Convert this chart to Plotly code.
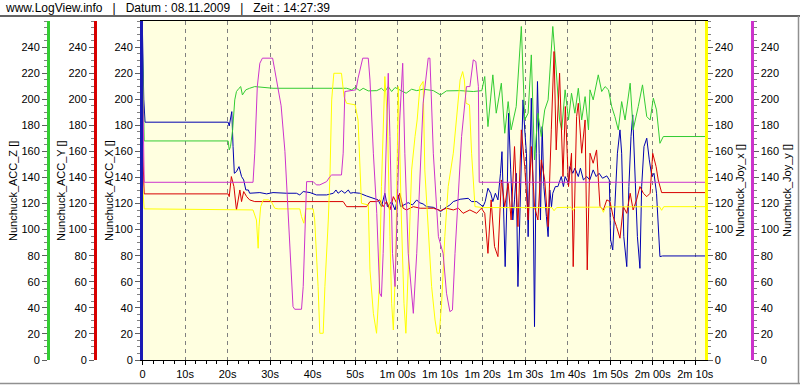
import plotly.graph_objects as go

# ---------------- data (time in seconds, values in raw units) ----------------
acc_x_t = [0, 0.3, 0.6, 20.15, 20.4, 20.7, 21.0, 21.3, 21.6, 22.1, 22.7, 23.3, 23.8, 24.3, 24.9, 25.2, 26.4,
           27.6, 29.2, 30.7, 33.9, 36.2, 37.0, 37.8, 39.4, 40.9, 43.3, 44.9, 45.5, 46.0, 46.8, 47.6, 48.4,
           48.9, 49.6, 51.1, 52.7, 54.3, 55.4, 56.2, 57.0, 57.6, 58.6, 59.4, 60.2, 60.7, 61.5, 62.5, 63.5,
           64.5, 65.1, 66.0, 66.8, 68.4, 69.6, 70.1, 71.1, 72.3, 73.1, 74.7, 76.6, 77.4, 78.6, 79.8, 80.1,
           80.6, 81.25, 81.9, 82.4, 83.0, 83.6, 84.2, 84.55, 85.0, 85.3, 85.8, 86.1, 86.6, 87.1, 87.5, 87.9,
           88.3, 88.7, 89.1, 89.5, 89.9, 90.3, 90.7, 91.1, 91.45, 91.85, 92.2, 92.6, 92.9, 93.3, 93.6, 94.0,
           94.4, 95.0, 95.4, 95.8, 96.2, 96.5, 97.1, 97.7, 98.5, 99.0, 99.4, 100.2, 100.5, 101.2, 101.7,
           102.5, 103.0, 103.7, 104.5, 105.2, 106.0, 106.7, 107.4, 108.2, 109.2, 109.8, 110.1, 110.6, 111.1,
           111.7, 112.3, 112.7, 113.2, 113.9, 114.4, 114.9, 115.3, 115.8, 116.4, 117.0, 117.4, 117.95, 118.6,
           119.2, 119.8, 120.3, 120.9, 121.7, 122.3, 132.3]
acc_x_v = [250, 200, 182.4, 182.4, 179.5, 184.1, 190.5, 163.7, 143.2, 144.5, 148.3, 140.7, 138.1, 130.4, 130.4,
           127.9, 127.9, 128.4, 127.4, 128.4, 127.9, 127.9, 126.6, 129.2, 128.4, 126.6, 126.6, 127.9, 130.4,
           127.9, 129.9, 127.9, 130.4, 127.9, 128.4, 127.9, 125.8, 124.0, 122.8, 117.6, 127.9, 117.6, 121.5,
           115.1, 126.6, 117.6, 118.9, 120.7, 118.9, 122.8, 120.7, 119.7, 117.6, 117.1, 115.1, 113.8, 116.4,
           118.9, 121.5, 123.3, 124.0, 121.5, 121.5, 118.2, 117.6, 121.5, 131.7, 127.9, 121.5, 127.9, 122.8,
           143.2, 159.8, 107.4, 71.6, 133.0, 189.3, 145.8, 107.4, 122.8, 143.2, 56.3, 107.4, 153.5, 199.5,
           176.5, 158.6, 94.6, 158.6, 200.8, 133.0, 25.6, 158.6, 213.6, 158.6, 107.4, 179.0, 133.0, 110.0,
           94.6, 130.4, 117.6, 127.9, 133.0, 133.0, 140.7, 133.0, 140.7, 135.5, 148.3, 143.2, 147.1, 140.7,
           147.1, 138.1, 140.7, 138.1, 145.8, 140.7, 143.2, 139.4, 141.2, 138.1, 92.1, 84.4, 117.6, 158.6,
           176.5, 158.6, 94.6, 71.6, 133.0, 171.4, 188.0, 145.8, 94.6, 70.3, 133.0, 163.7, 170.1, 153.5,
           140.7, 143.2, 127.9, 79.3, 79.8, 79.8]

acc_y_t = [0, 0.4, 20.15, 20.4, 20.9, 21.5, 22.1, 22.5, 22.9, 23.3, 23.8, 24.5, 25.2, 26.4, 30.7, 47.2, 48.0,
           52.7, 53.5, 55.1, 55.8, 56.6, 57.4, 58.2, 59.0, 59.8, 60.5, 61.3, 62.1, 63.7, 65.3, 68.4, 70.1,
           71.5, 73.1, 74.3, 75.4, 77.0, 78.6, 79.7, 80.5, 81.25, 82.0, 82.8, 83.6, 84.4, 85.2, 86.0, 86.7,
           87.5, 88.3, 89.1, 89.9, 90.7, 91.45, 92.2, 93.0, 93.8, 94.6, 95.4, 96.15, 96.8, 97.3, 98.1, 98.9,
           99.45, 100.2, 100.9, 101.3, 102.1, 102.5, 103.3, 104.1, 104.6, 105.25, 106.0, 106.8, 107.6, 108.4,
           109.2, 109.95, 110.7, 111.5, 112.3, 113.1, 113.9, 114.7, 115.4, 116.2, 117.0, 117.8, 118.6, 119.4,
           120.0, 120.8, 121.3, 122.1, 132.3]
acc_y_v = [166, 127.4, 127.4, 125.3, 140.7, 133.0, 115.1, 122.8, 130.4, 121.5, 129.2, 125.3, 122.8, 121.5,
           121.5, 121.5, 117.6, 117.6, 121.5, 121.5, 122.8, 117.6, 121.5, 115.1, 125.3, 120.2, 127.9, 116.4,
           115.1, 117.6, 116.4, 116.4, 114.6, 116.4, 115.1, 116.4, 112.5, 115.1, 112.5, 116.4, 112.5, 81.8,
           122.8, 87.0, 79.3, 138.1, 117.6, 135.5, 107.4, 163.7, 102.3, 176.5, 148.3, 107.4, 163.7, 117.6,
           107.4, 153.5, 138.1, 102.3, 176.5, 236.6, 161.1, 220.0, 140.7, 194.4, 133.0, 158.6, 71.6, 186.7,
           196.9, 158.6, 184.1, 69.1, 158.6, 150.9, 161.1, 117.6, 115.1, 122.8, 121.5, 110.0, 102.3, 93.4,
           117.6, 112.5, 127.9, 115.1, 122.8, 133.0, 127.9, 125.3, 127.9, 158.6, 148.3, 138.1, 128.4, 128.4]

acc_z_t = [0, 0.4, 20.15, 20.4, 20.7, 21.2, 21.7, 22.1, 22.7, 23.1, 23.5, 24.3, 25.2, 26.4, 30.7, 48.0, 49.2,
           50.0, 51.1, 51.9, 53.1, 55.1, 56.2, 57.0, 57.8, 58.6, 59.4, 60.5, 62.0, 63.3, 64.5, 66.0, 68.4,
           70.1, 71.5, 74.7, 77.8, 79.8, 80.5, 81.25, 82.4, 83.2, 84.4, 85.2, 86.0, 86.7, 87.9, 89.1, 89.9,
           90.7, 91.45, 92.2, 93.0, 93.8, 94.6, 95.4, 96.5, 97.3, 98.1, 98.6, 99.4, 100.2, 100.9, 101.7,
           102.5, 103.3, 104.1, 104.9, 105.25, 106.0, 107.2, 108.0, 108.8, 109.6, 110.35, 111.1, 111.9,
           112.7, 113.5, 114.7, 115.4, 116.6, 117.6, 118.6, 119.4, 120.15, 120.9, 121.7, 122.5, 132.3]
acc_z_v = [235, 168.0, 168.0, 161.1, 163.7, 176.5, 199.5, 205.9, 208.4, 209.7, 203.3, 207.2, 208.4, 209.7,
           208.4, 208.4, 207.2, 209.0, 206.6, 208.4, 206.4, 206.6, 208.4, 205.9, 209.7, 205.9, 209.0, 207.2,
           204.6, 207.7, 206.6, 207.7, 206.6, 203.3, 206.4, 206.6, 205.9, 206.6, 217.4, 179.0, 218.7, 189.3,
           212.3, 173.9, 198.2, 176.5, 194.4, 255.8, 184.1, 189.3, 234.0, 153.5, 189.3, 171.4, 191.8, 199.5,
           255.8, 222.5, 184.1, 176.5, 207.2, 184.1, 204.6, 189.3, 208.4, 184.1, 202.0, 176.5, 207.2, 199.5,
           218.7, 205.9, 209.7, 207.2, 194.4, 186.7, 176.5, 198.2, 184.1, 212.3, 176.5, 194.4, 211.0, 186.7,
           184.1, 200.8, 191.8, 166.2, 171.4, 171.4]

joy_x_t = [0, 0.4, 26.0, 26.8, 27.2, 27.4, 27.8, 28.4, 29.6, 30.3, 31.1, 31.9, 37.0, 37.4, 37.95, 38.4, 40.15,
           40.5, 41.3, 41.7, 42.5, 42.9, 43.7, 44.1, 44.5, 45.0, 46.8, 47.4, 48.0, 50.0, 50.7, 51.5, 53.1,
           53.5, 54.3, 55.05, 55.7, 56.2, 57.0, 57.6, 58.2, 58.6, 59.0, 59.6, 60.15, 60.5, 60.9, 61.5, 61.95,
           62.5, 63.3, 64.1, 64.6, 65.25, 66.0, 66.4, 67.2, 68.0, 68.8, 69.3, 69.8, 70.35, 71.1, 71.9, 73.1,
           73.9, 74.7, 75.3, 75.7, 76.1, 76.9, 77.4, 78.2, 80.15, 96.3, 96.8, 97.4, 100.8, 101.3, 101.8,
           107.9, 108.4, 108.9, 121.6, 122.1, 122.6, 132.3]
joy_x_v = [135, 115.9, 115.1, 107.4, 85.7, 102.3, 117.6, 122.8, 122.8, 121.5, 116.4, 115.9, 115.9, 110.0,
           104.9, 115.9, 115.9, 107.4, 56.3, 20.5, 20.5, 56.3, 107.4, 143.2, 199.5, 219.9, 219.9, 202.0,
           196.9, 195.7, 184.1, 120.2, 118.9, 69.1, 35.8, 20.5, 56.3, 133.0, 217.4, 184.1, 94.6, 43.5, 23.0,
           81.8, 209.7, 158.6, 107.4, 43.5, 20.5, 69.1, 145.8, 171.4, 184.1, 209.7, 213.6, 145.8, 102.3,
           56.3, 30.7, 20.5, 20.5, 43.5, 94.6, 133.0, 158.6, 184.1, 214.8, 221.2, 214.8, 196.9, 195.7, 158.6,
           117.6, 116.9, 116.9, 114.5, 116.9, 117.2, 114.8, 117.2, 117.2, 113.3, 117.4, 117.6, 114.8, 117.6,
           117.6]

joy_y_t = [0, 0.4, 26.0, 26.4, 27.0, 27.6, 28.2, 30.6, 31.1, 32.0, 32.6, 33.5, 34.3, 35.05, 35.4, 35.8, 37.4,
           37.8, 38.2, 38.6, 40.15, 40.9, 41.7, 43.3, 44.1, 44.5, 46.8, 47.2, 47.6, 50.2, 50.7, 51.8, 53.1,
           53.5, 54.3, 55.1, 55.8, 56.2, 56.6, 57.25, 57.8, 58.2, 58.8, 59.4, 59.9, 60.5, 61.2, 61.7, 62.5,
           63.7, 64.5, 65.25, 66.0, 67.2, 67.6, 68.4, 69.6, 70.7, 71.5, 72.3, 72.9, 73.5, 74.3, 75.05, 76.2,
           77.0, 77.8, 78.4, 79.0, 79.2, 132.3]
joy_y_v = [222, 136.3, 136.3, 158.6, 209.7, 227.6, 231.5, 231.5, 222.5, 205.0, 195.0, 160.0, 107.4, 66.5,
           40.9, 38.9, 38.9, 56.3, 94.6, 136.8, 136.8, 134.3, 134.3, 136.8, 140.7, 141.9, 141.9, 158.6,
           205.9, 207.2, 216.1, 231.5, 231.5, 214.8, 158.6, 112.5, 51.2, 48.6, 81.8, 158.6, 219.9, 171.4,
           81.8, 56.3, 107.4, 184.1, 227.6, 158.6, 81.8, 35.8, 81.8, 145.8, 196.9, 231.5, 231.5, 158.6,
           94.6, 81.8, 51.2, 37.1, 38.4, 81.8, 133.0, 171.4, 209.7, 209.7, 230.2, 228.9, 209.7, 136.3, 136.3]

x_tick_vals = [0, 10, 20, 30, 40, 50, 60, 70, 80, 90, 100, 110, 120, 130]
x_tick_text = ["0", "10s", "20s", "30s", "40s", "50s", "1m 00s", "1m 10s", "1m 20s", "1m 30s",
               "1m 40s", "1m 50s", "2m 00s", "2m 10s"]
y_tick_vals = [0, 20, 40, 60, 80, 100, 120, 140, 160, 180, 200, 220, 240]

# ---------------- styling ----------------
W, H = 800, 385
FONT = "Liberation Sans, Arial, sans-serif"
C_BLUE, C_RED, C_GREEN, C_YEL, C_MAG = "#0000B0", "#D80000", "#33CC33", "#FFFF00", "#CC33CC"
AX_BLUE = "#1a1ab4"

def px(x):
    return x / W

def py(y):
    return 1 - y / H

fig = go.Figure()
fig.add_trace(go.Scatter(x=acc_z_t, y=acc_z_v, mode="lines", line=dict(color=C_GREEN, width=1), yaxis="y2"))
fig.add_trace(go.Scatter(x=joy_x_t, y=joy_x_v, mode="lines", line=dict(color=C_YEL, width=1), yaxis="y4"))
fig.add_trace(go.Scatter(x=joy_y_t, y=joy_y_v, mode="lines", line=dict(color=C_MAG, width=1), yaxis="y5"))
fig.add_trace(go.Scatter(x=acc_y_t, y=acc_y_v, mode="lines", line=dict(color=C_RED, width=1), yaxis="y3"))
fig.add_trace(go.Scatter(x=acc_x_t, y=acc_x_v, mode="lines", line=dict(color=C_BLUE, width=1), yaxis="y"))

ydom = [py(360), py(21)]

def yax(color, side, **kw):
    d = dict(range=[0, 260], domain=ydom, tickmode="array", tickvals=y_tick_vals,
             showgrid=False, zeroline=False, showline=True, linecolor=color, linewidth=2.5,
             ticks="outside", ticklen=5, tickcolor="#606060", side=side, automargin=False,
             tickfont=dict(family=FONT, size=11, color="black"),
             minor=dict(tickmode="array", tickvals=list(range(0, 261, 5)), ticks="outside",
                        ticklen=3, tickcolor="#808080"),
             fixedrange=True)
    d.update(kw)
    return d

fig.update_layout(
    width=W, height=H, margin=dict(l=0, r=0, t=0, b=0, autoexpand=False),
    paper_bgcolor="white", plot_bgcolor="#FFFFE0", showlegend=False,
    xaxis=dict(domain=[px(142.5), px(705)], range=[0, 132.3], tickmode="array", automargin=False,
               tickvals=x_tick_vals, ticktext=x_tick_text, showgrid=True, gridcolor="#808080",
               griddash="4px,4px", gridwidth=1, zeroline=False, showline=True, linecolor="black",
               linewidth=1, mirror=True, ticks="outside", ticklen=4, tickcolor="black",
               tickfont=dict(family=FONT, size=11, color="black"), fixedrange=True,
               minor=dict(dtick=2.5, ticks="outside", ticklen=3, tickcolor="black", showgrid=False)),
    yaxis=yax(AX_BLUE, "left", anchor="x"),
    yaxis2=yax(C_GREEN, "left", anchor="free", overlaying="y", position=px(48)),
    yaxis3=yax(C_RED, "left", anchor="free", overlaying="y", position=px(95)),
    yaxis4=yax(C_YEL, "right", anchor="x", overlaying="y"),
    yaxis5=yax(C_MAG, "right", anchor="free", overlaying="y", position=px(752)),
)

titles = [("Nunchuck_ACC_Z []", 13), ("Nunchuck_ACC_Y []", 61), ("Nunchuck_ACC_X []", 109),
          ("Nunchuck_Joy_x []", 740), ("Nunchuck_Joy_y []", 787)]
for text, xc in titles:
    fig.add_annotation(text=text, x=px(xc), y=py(191), xref="paper", yref="paper",
                       textangle=-90, showarrow=False, xanchor="center", yanchor="middle",
                       font=dict(family=FONT, size=11, color="black"))

fig.add_annotation(text="www.LogView.info &nbsp; | &nbsp; Datum : 08.11.2009 &nbsp; | &nbsp; Zeit : 14:27:39",
                   x=px(3), y=py(8), xref="paper", yref="paper", showarrow=False,
                   xanchor="left", yanchor="middle", font=dict(family=FONT, size=12, color="black"))

fig.add_shape(type="line", xref="paper", yref="paper", x0=0, x1=1, y0=py(16), y1=py(16),
              line=dict(color="#303030", width=1.5))
fig.add_shape(type="line", xref="paper", yref="paper", x0=0, x1=1, y0=py(383.5), y1=py(383.5),
              line=dict(color="#909090", width=1.5))
fig.add_shape(type="line", xref="paper", yref="paper", x0=px(798.5), x1=px(798.5), y0=py(16), y1=py(384),
              line=dict(color="#909090", width=1.5))

fig.write_html("out.html", config={"displayModeBar": False, "staticPlot": True},
               post_script="document.body.style.margin='0';document.body.style.overflow='hidden';")
